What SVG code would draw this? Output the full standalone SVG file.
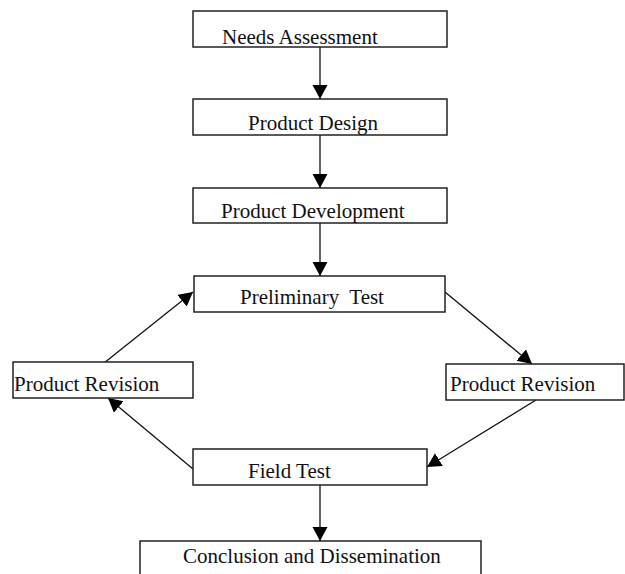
<svg xmlns="http://www.w3.org/2000/svg" width="625" height="574" viewBox="0 0 625 574">
<style>
  .box { fill: #ffffff; stroke: #222222; stroke-width: 1.5; }
  .lbl { font-family: "Liberation Serif", "Times New Roman", serif; font-size: 21px; fill: #111111; white-space: pre; }
  .conn { stroke: #111111; stroke-width: 1.3; fill: none; marker-end: url(#arrow); }
</style>
<defs>
  <marker id="arrow" markerUnits="userSpaceOnUse" markerWidth="15" markerHeight="16" refX="14" refY="7.5" orient="auto">
    <path d="M0,0 L14,7.5 L0,15 z" fill="#000000"/>
  </marker>
</defs>
<rect width="625" height="574" fill="#ffffff"/>
<g id="connectors">
  <line class="conn" x1="320" y1="47" x2="320" y2="99"/>
  <line class="conn" x1="320" y1="135" x2="320" y2="188"/>
  <line class="conn" x1="320" y1="223" x2="320" y2="276"/>
  <line class="conn" x1="104" y1="363" x2="193" y2="292"/>
  <line class="conn" x1="445" y1="292" x2="532" y2="364"/>
  <line class="conn" x1="536" y1="400" x2="427" y2="467"/>
  <line class="conn" x1="193" y1="469" x2="108" y2="398"/>
  <line class="conn" x1="320" y1="485" x2="320" y2="541"/>
</g>
<g id="needs-assessment">
  <rect class="box" x="193" y="11" width="254" height="36"/>
  <text class="lbl" x="222" y="44">Needs Assessment</text>
</g>
<g id="product-design">
  <rect class="box" x="193" y="99" width="254" height="36"/>
  <text class="lbl" x="248" y="130">Product Design</text>
</g>
<g id="product-development">
  <rect class="box" x="193" y="188" width="254" height="35"/>
  <text class="lbl" x="221" y="218">Product Development</text>
</g>
<g id="preliminary-test">
  <rect class="box" x="194" y="276" width="251" height="36"/>
  <text class="lbl" x="240" y="304" xml:space="preserve">Preliminary  Test</text>
</g>
<g id="product-revision-left">
  <rect class="box" x="13" y="362" width="180" height="36"/>
  <text class="lbl" x="14" y="391">Product Revision</text>
</g>
<g id="product-revision-right">
  <rect class="box" x="446" y="364" width="178" height="36"/>
  <text class="lbl" x="450" y="391">Product Revision</text>
</g>
<g id="field-test">
  <rect class="box" x="193" y="449" width="234" height="36"/>
  <text class="lbl" x="248" y="478">Field Test</text>
</g>
<g id="conclusion">
  <rect class="box" x="140" y="541" width="341" height="45"/>
  <text class="lbl" x="183" y="563">Conclusion and Dissemination</text>
</g>
</svg>
